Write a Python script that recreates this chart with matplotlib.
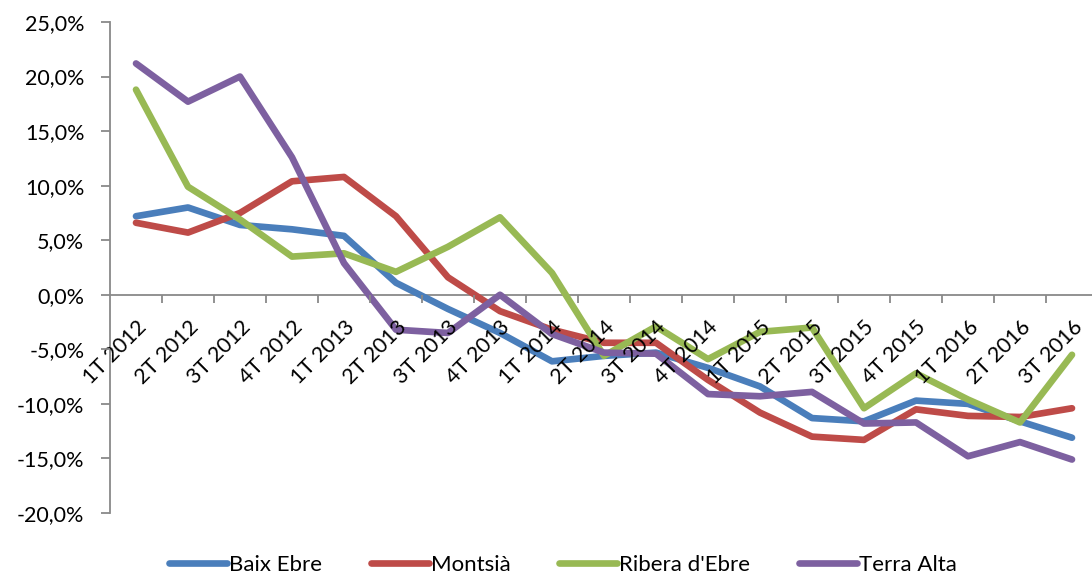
import matplotlib
matplotlib.use("Agg")
import matplotlib.pyplot as plt
from matplotlib.ticker import FuncFormatter, FixedLocator

plt.rcParams['font.family'] = ['Lato', 'DejaVu Sans']
plt.rcParams['axes.unicode_minus'] = False

categories = ["1T 2012", "2T 2012", "3T 2012", "4T 2012",
              "1T 2013", "2T 2013", "3T 2013", "4T 2013",
              "1T 2014", "2T 2014", "3T 2014", "4T 2014",
              "1T 2015", "2T 2015", "3T 2015", "4T 2015",
              "1T 2016", "2T 2016", "3T 2016"]

baix_ebre = [7.2, 8.0, 6.4, 6.0, 5.4, 1.1, -1.3, -3.5, -6.1, -5.6, -5.3, -6.7,
             -8.4, -11.3, -11.6, -9.7, -10.0, -11.6, -13.1]
montsia = [6.6, 5.7, 7.5, 10.4, 10.8, 7.2, 1.6, -1.5, -3.2, -4.4, -4.4, -7.8,
           -10.8, -13.0, -13.3, -10.5, -11.1, -11.2, -10.4]
ribera = [18.8, 9.9, 6.9, 3.5, 3.8, 2.1, 4.4, 7.1, 2.0, -5.6, -2.9, -5.9,
          -3.4, -3.0, -10.4, -7.2, -9.6, -11.7, -5.5]
terra_alta = [21.2, 17.7, 20.0, 12.6, 2.9, -3.2, -3.5, 0.0, -3.6, -5.3, -5.4, -9.1,
              -9.3, -8.9, -11.8, -11.7, -14.8, -13.5, -15.1]

series = [("Baix Ebre", baix_ebre, "#4A7EBB"),
          ("Montsià", montsia, "#BE4B48"),
          ("Ribera d'Ebre", ribera, "#98B954"),
          ("Terra Alta", terra_alta, "#7D60A0")]

W, H = 1092, 578
fig = plt.figure(figsize=(W / 100, H / 100), dpi=100)
ax_left, ax_right = 110, 1098
ax_top, ax_bot = 22, 513
ax = fig.add_axes([ax_left / W, (H - ax_bot) / H, (ax_right - ax_left) / W, (ax_bot - ax_top) / H])
ax.set_axisbelow(False)

x = list(range(len(categories)))
for name, vals, col in series:
    ax.plot(x, vals, color=col, lw=4.8, label=name, solid_capstyle='round',
            solid_joinstyle='round', zorder=2)

ax.set_xlim(-0.5, len(categories) - 0.5)
ax.set_ylim(-20, 25)
ax.set_yticks(range(-20, 26, 5))
ax.yaxis.set_major_formatter(FuncFormatter(lambda v, p: f"{v:.1f}".replace(".", ",") + "%"))

gray = "#898989"
for s in ['top', 'right']:
    ax.spines[s].set_visible(False)
ax.spines['bottom'].set_position(('data', 0))
ax.spines['bottom'].set_color(gray)
ax.spines['left'].set_color(gray)
ax.spines['bottom'].set_linewidth(1.3)
ax.spines['left'].set_linewidth(1.3)
ax.spines['bottom'].set_zorder(1.5)
ax.spines['left'].set_zorder(1.5)

ax.set_xticks(x)
ax.set_xticklabels(categories, rotation=45, ha='right', va='top', rotation_mode='anchor')
ax.tick_params(axis='x', which='major', length=0, pad=16, labelsize=15.5)
ax.xaxis.set_minor_locator(FixedLocator([i + 0.5 for i in range(len(categories))]))
ax.tick_params(axis='x', which='minor', length=6, width=1.3, color=gray, direction='out')
ax.tick_params(axis='y', length=6.5, width=1.3, color=gray, direction='out', labelsize=15.5, pad=12)

leg = fig.legend(loc='center', bbox_to_anchor=(563 / W, (H - 565) / H), ncol=4, frameon=False,
                 fontsize=16, handlelength=2.6, columnspacing=2.2, handletextpad=0.1)

fig.savefig("out.png", dpi=100)
